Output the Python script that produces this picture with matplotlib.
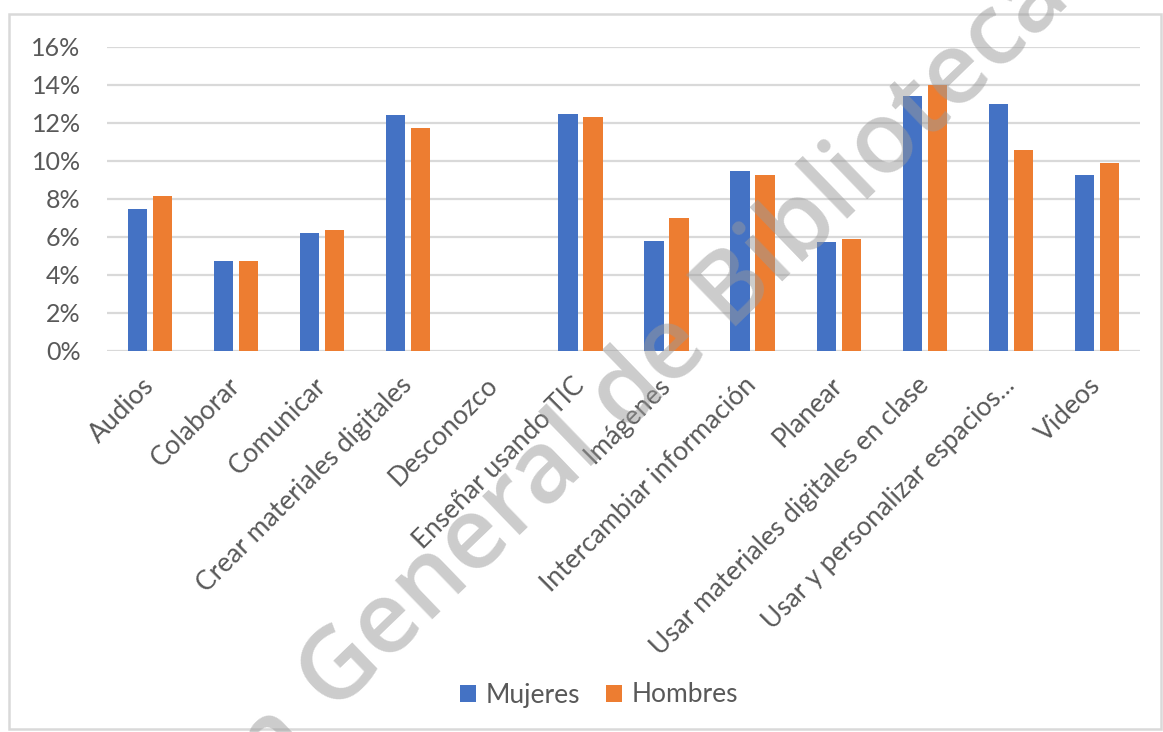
import numpy as np
import matplotlib
matplotlib.use("Agg")
import matplotlib.pyplot as plt
from matplotlib.ticker import PercentFormatter
from matplotlib.patches import Rectangle

# Datos (porcentaje)
categorias = ['Audios', 'Colaborar', 'Comunicar', 'Crear materiales digitales',
              'Desconozco', 'Enseñar usando TIC', 'Imágenes',
              'Intercambiar información', 'Planear',
              'Usar materiales digitales en clase',
              'Usar y personalizar espacios...', 'Videos']
mujeres = [7.5, 4.75, 6.2, 12.4, 0, 12.5, 5.8, 9.45, 5.75, 13.4, 13.0, 9.25]
hombres = [8.15, 4.75, 6.35, 11.75, 0, 12.3, 7.0, 9.25, 5.9, 14.0, 10.6, 9.9]
y_ticks = [0, 2, 4, 6, 8, 10, 12, 14, 16]

azul = '#4472C4'
naranja = '#ED7D31'
gris_texto = '#595959'
gris_linea = '#D9D9D9'

plt.rcParams['font.family'] = ['Lato', 'DejaVu Sans']

fig = plt.figure(figsize=(11.63, 7.32), dpi=100)
ax = fig.add_axes([107 / 1163, 1 - 351 / 732, (1140 - 107) / 1163, (351 - 47) / 732])

x = np.arange(len(categorias))
ancho = 0.225
ax.bar(x - 0.145, mujeres, ancho, color=azul, label='Mujeres', zorder=2)
ax.bar(x + 0.145, hombres, ancho, color=naranja, label='Hombres', zorder=2)

ax.set_xlim(-0.5, len(categorias) - 0.5)
ax.set_ylim(0, 16)
ax.set_yticks(y_ticks)
ax.yaxis.set_major_formatter(PercentFormatter(xmax=100, decimals=0))
ax.set_xticks(x)
ax.set_xticklabels(categorias, rotation=45, ha='right', va='center',
                   rotation_mode='anchor')

ax.grid(axis='y', color=gris_linea, linewidth=1.6, zorder=0)
ax.set_axisbelow(True)
for s in ax.spines.values():
    s.set_visible(False)
ax.tick_params(axis='y', length=0, pad=19, labelsize=18, labelcolor=gris_texto)
ax.tick_params(axis='x', length=0, pad=22, labelsize=19, labelcolor=gris_texto)

fig.legend(loc='center', bbox_to_anchor=(599 / 1163, 1 - 695 / 732), ncol=2,
           frameon=False, fontsize=19, labelcolor=gris_texto,
           handlelength=0.6, handleheight=0.6, handletextpad=0.35,
           columnspacing=1.0)

# marco del grafico
fig.patches.append(Rectangle((9 / 1163, 3 / 732), 1152 / 1163, 715 / 732,
                             transform=fig.transFigure, fill=False,
                             edgecolor=gris_linea, linewidth=1.8))

# marca de agua
wm_x, wm_y = 333 / 1163, 1 - 715 / 732
ang = 44
fuente_wm = dict(family=['Open Sans', 'DejaVu Sans'], fontsize=72, fontweight='semibold',
                 color='#9a9a9a', alpha=0.5, rotation=ang, rotation_mode='anchor',
                 va='baseline', zorder=5)
fig.text(wm_x, wm_y, 'General de Bibliotecas', ha='left', **fuente_wm)
gap = 30
fig.text(wm_x - gap * np.cos(np.radians(ang)) / 1163,
         wm_y - gap * np.sin(np.radians(ang)) / 732,
         'Dirección', ha='right', **fuente_wm)

fig.savefig('out.png', dpi=100)
